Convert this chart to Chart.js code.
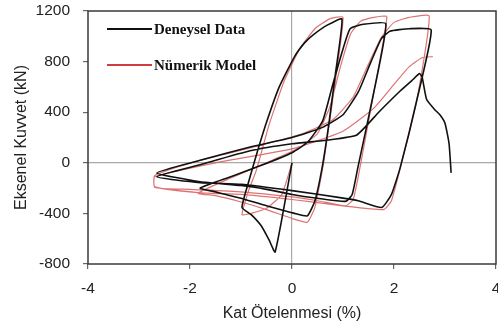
<!DOCTYPE html>
<html>
<head>
<meta charset="utf-8">
<script src="https://cdn.jsdelivr.net/npm/chart.js@4"></script>
<style>
  html, body { margin: 0; padding: 0; background: #fff; }
  #wrap { width: 498px; height: 325px; }
</style>
</head>
<body>
<div id="wrap"><canvas id="c"></canvas></div>
<script>
// drift (%) and axial force (kN), in loading order
const deneyselX = [0, -0.33, -0.45, -0.6, -0.8, -0.98,
  -0.85, -0.7, -0.5, -0.25, 0.05, 0.25, 0.41, 0.7, 0.98,
  0.85, 0.72, 0.59, 0.45, 0.3, 0.05, -0.5, -1.0, -1.5, -1.8,
  -1.2, -0.6, 0.0, 0.3, 0.6, 0.8, 1.0, 1.14, 1.4, 1.84,
  1.6, 1.29, 1.18, 1.05, 0.5, 0.0, -0.5, -1.0, -1.8, -2.65,
  -1.8, -0.82, 0.0, 0.6, 1.0, 1.3, 1.55, 1.75, 1.92, 2.3, 2.73,
  2.45, 2.12, 1.95, 1.76, 1.3, 0.94, 0.0, -1.0, -1.8, -2.65,
  -1.8, -0.82, 0.0, 0.7, 1.27, 1.7, 2.1, 2.35, 2.5,
  2.55, 2.64, 2.8, 2.9, 3.0, 3.08, 3.12];
const deneyselY = [0, -705, -610, -500, -410, -353,
  -150, 60, 320, 600, 840, 950, 1010, 1090, 1137,
  700, 300, -40, -300, -420, -400, -340, -280, -230, -200,
  -110, -20, 80, 160, 330, 620, 900, 1060, 1095, 1100,
  550, -40, -250, -305, -280, -250, -210, -180, -150, -80,
  20, 125, 200, 280, 380, 560, 800, 980, 1040, 1060, 1050,
  500, -40, -250, -353, -300, -275, -220, -170, -157, -110,
  -15, 95, 150, 180, 220, 400, 560, 650, 705,
  680, 500, 420, 380, 313, 150, -80];

const numerikX = [0, -0.2, -0.5, -0.8, -0.98,
  -0.85, -0.7, -0.45, -0.15, 0.15, 0.45, 0.75, 1.0,
  0.85, 0.62, 0.45, 0.3, 0.0, -0.5, -1.0, -1.5, -1.84,
  -1.2, -0.5, 0.1, 0.5, 0.75, 0.95, 1.15, 1.35, 1.6, 1.86,
  1.6, 1.35, 1.2, 1.05, 0.5, 0.0, -1.0, -2.0, -2.69,
  -2.69, -1.8, -0.8, 0.2, 0.8, 1.2, 1.5, 1.75, 2.0, 2.3, 2.69,
  2.45, 2.15, 1.95, 1.8, 1.0, 0.0, -1.0, -1.84, -2.69,
  -2.69, -1.5, 0.0, 1.0, 1.6, 2.0, 2.3, 2.55, 2.76];
const numerikY = [0, -250, -360, -400, -410,
  -220, -60, 300, 650, 900, 1060, 1140, 1150,
  650, 0, -350, -470, -440, -370, -310, -260, -240,
  -120, 0, 110, 230, 450, 760, 1020, 1120, 1150, 1155,
  550, 0, -290, -340, -300, -270, -230, -210, -195,
  -100, 20, 120, 230, 340, 520, 780, 990, 1110, 1150, 1160,
  500, 0, -300, -370, -340, -290, -250, -235, -190,
  -110, 0, 110, 250, 430, 620, 760, 830, 840];

const xTicks = [-4, -2, 0, 2, 4];
const yTicks = [-800, -400, 0, 400, 800, 1200];
const seriesNames = ['Deneysel Data', 'Nümerik Model'];

const toPoints = (xs, ys) => xs.map((x, i) => ({ x: x, y: ys[i] }));

// box around the plot + legend drawn inside, top left
const frameAndLegend = {
  id: 'frameAndLegend',
  afterDatasetsDraw(chart) {
    const { ctx, chartArea: a } = chart;
    ctx.save();
    ctx.strokeStyle = '#3a3a3a';
    ctx.lineWidth = 1.5;
    ctx.strokeRect(a.left, a.top, a.right - a.left, a.bottom - a.top);

    const rows = [
      { name: seriesNames[0], color: '#111', y: 29 },
      { name: seriesNames[1], color: '#d23c3c', y: 65 }
    ];
    ctx.font = 'bold 15px "Liberation Serif", "Times New Roman", serif';
    ctx.textBaseline = 'middle';
    rows.forEach(r => {
      ctx.strokeStyle = r.color;
      ctx.lineWidth = 2;
      ctx.beginPath();
      ctx.moveTo(107, r.y);
      ctx.lineTo(152, r.y);
      ctx.stroke();
      ctx.fillStyle = '#111';
      ctx.fillText(r.name, 154, r.y + 1);
    });
    ctx.restore();
  }
};

const zeroLine = c => (c.tick && c.tick.value === 0) ? '#a8a8a8' : 'rgba(0,0,0,0)';
const axisFont = '"Liberation Sans", Arial, sans-serif';
const noPad = s => { s.paddingLeft = 0; s.paddingRight = 0; s.paddingTop = 0; s.paddingBottom = 0; };

new Chart(document.getElementById('c'), {
  type: 'scatter',
  data: {
    datasets: [
      {
        label: seriesNames[0],
        data: toPoints(deneyselX, deneyselY),
        showLine: true,
        borderColor: '#111',
        borderWidth: 1.6,
        pointRadius: 0,
        tension: 0.15,
        order: 1
      },
      {
        label: seriesNames[1],
        data: toPoints(numerikX, numerikY),
        showLine: true,
        borderColor: 'rgba(215,90,90,0.85)',
        borderWidth: 1.2,
        pointRadius: 0,
        tension: 0.15,
        order: 2
      }
    ]
  },
  options: {
    responsive: true,
    maintainAspectRatio: false,
    animation: false,
    layout: { padding: { top: 11, right: 2, left: 0, bottom: 0 } },
    plugins: {
      legend: { display: false },
      tooltip: { enabled: false }
    },
    scales: {
      x: {
        type: 'linear',
        min: -4,
        max: 4,
        afterBuildTicks: s => { s.ticks = xTicks.map(v => ({ value: v })); },
        afterFit: s => { s.height = 61; noPad(s); },
        grid: { color: zeroLine, tickColor: '#666', tickLength: 5, lineWidth: 1.2 },
        border: { display: false },
        ticks: {
          color: '#222',
          padding: 10,
          maxRotation: 0,
          callback: v => String(v),
          font: { family: axisFont, size: 15.5 }
        },
        title: {
          display: true,
          text: 'Kat Ötelenmesi (%)',
          color: '#222',
          padding: { top: 0, bottom: 2 },
          font: { family: axisFont, size: 16 }
        }
      },
      y: {
        type: 'linear',
        min: -800,
        max: 1200,
        afterBuildTicks: s => { s.ticks = yTicks.map(v => ({ value: v })); },
        afterFit: s => { s.width = 88; noPad(s); },
        grid: { color: zeroLine, tickColor: '#666', tickLength: 5, lineWidth: 1.2 },
        border: { display: false },
        ticks: {
          color: '#222',
          padding: 13,
          callback: v => String(v),
          font: { family: axisFont, size: 15.5 }
        },
        title: {
          display: true,
          text: 'Eksenel Kuvvet (kN)',
          color: '#222',
          padding: { top: 12, bottom: 0 },
          font: { family: axisFont, size: 16 }
        }
      }
    }
  },
  plugins: [frameAndLegend]
});
</script>
</body>
</html>
